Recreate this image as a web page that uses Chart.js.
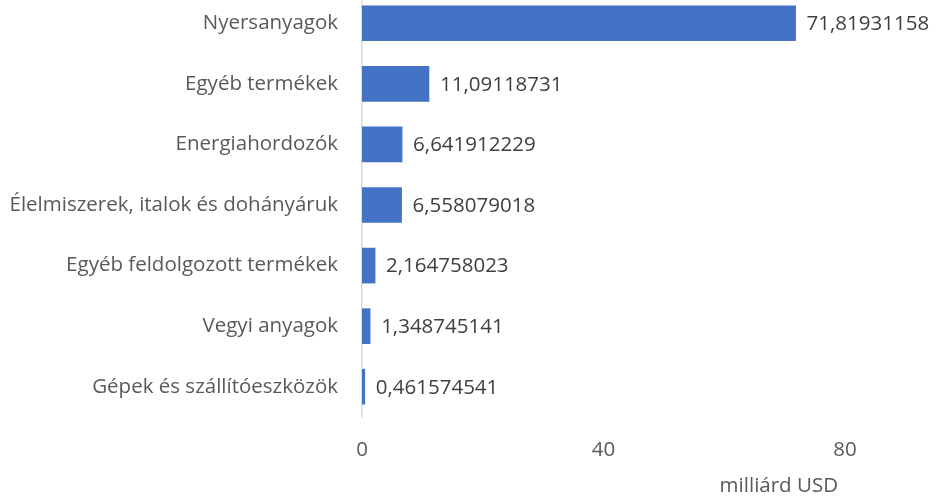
<!DOCTYPE html>
<html>
<head>
<meta charset="utf-8">
<script src="https://cdn.jsdelivr.net/npm/chart.js@4"></script>
<style>
html,body{margin:0;padding:0;background:#fff;overflow:hidden;}
#wrap{width:941px;height:499px;position:relative;overflow:hidden;}
#inner{position:absolute;left:0;top:-7px;width:941px;height:506px;}
</style>
</head>
<body>
<div id="wrap"><div id="inner"><canvas id="c"></canvas></div></div>
<script>
const categories = [
  "Nyersanyagok",
  "Egyéb termékek",
  "Energiahordozók",
  "Élelmiszerek, italok és dohányáruk",
  "Egyéb feldolgozott termékek",
  "Vegyi anyagok",
  "Gépek és szállítóeszközök"
];
const values = [71.81931158, 11.09118731, 6.641912229, 6.558079018, 2.164758023, 1.348745141, 0.461574541];
const xTicks = [0, 40, 80];
const axisTitle = "milliárd USD";

const FONT = "'Open Sans', sans-serif";
const FS = 20.5;

const valueLabels = {
  id: 'valueLabels',
  afterDatasetsDraw(chart) {
    const ctx = chart.ctx;
    const meta = chart.getDatasetMeta(0);
    ctx.save();
    ctx.font = FS + "px " + FONT;
    ctx.fillStyle = "#404040";
    ctx.textAlign = "left";
    ctx.textBaseline = "middle";
    meta.data.forEach((bar, i) => {
      const txt = String(values[i]).replace('.', ',');
      ctx.fillText(txt, bar.x + 11, bar.y + 1);
    });
    // axis title
    const xs = chart.scales.x;
    ctx.fillStyle = "#595959";
    ctx.textAlign = "right";
    ctx.fillText(axisTitle, xs.right - 7, 493);
    ctx.restore();
  }
};

new Chart(document.getElementById('c'), {
  type: 'bar',
  data: {
    labels: categories,
    datasets: [{
      data: values,
      backgroundColor: '#4472C4',
      borderWidth: 0,
      barThickness: 35
    }]
  },
  options: {
    indexAxis: 'y',
    responsive: true,
    maintainAspectRatio: false,
    animation: false,
    layout: { padding: { top: 0, right: 96, left: 0, bottom: 0 } },
    plugins: {
      legend: { display: false },
      tooltip: { enabled: false }
    },
    scales: {
      x: {
        min: 0,
        max: 80,
        afterBuildTicks(scale) { scale.ticks = xTicks.map(v => ({ value: v })); },
        afterFit(scale) { scale.height = 82; },
        grid: { display: false, drawTicks: false },
        border: { display: false },
        ticks: {
          color: '#595959',
          font: { family: FONT, size: FS },
          padding: 21,
          maxRotation: 0
        }
      },
      y: {
        grid: { display: false, drawTicks: false },
        border: { display: true, color: '#D9D9D9', width: 1.5 },
        afterFit(scale) { scale.width = 362; scale.paddingTop = 0; scale.paddingBottom = 0; },
        ticks: {
          color: '#595959',
          font: { family: FONT, size: FS },
          padding: 24
        }
      }
    }
  },
  plugins: [valueLabels]
});
</script>
</body>
</html>
